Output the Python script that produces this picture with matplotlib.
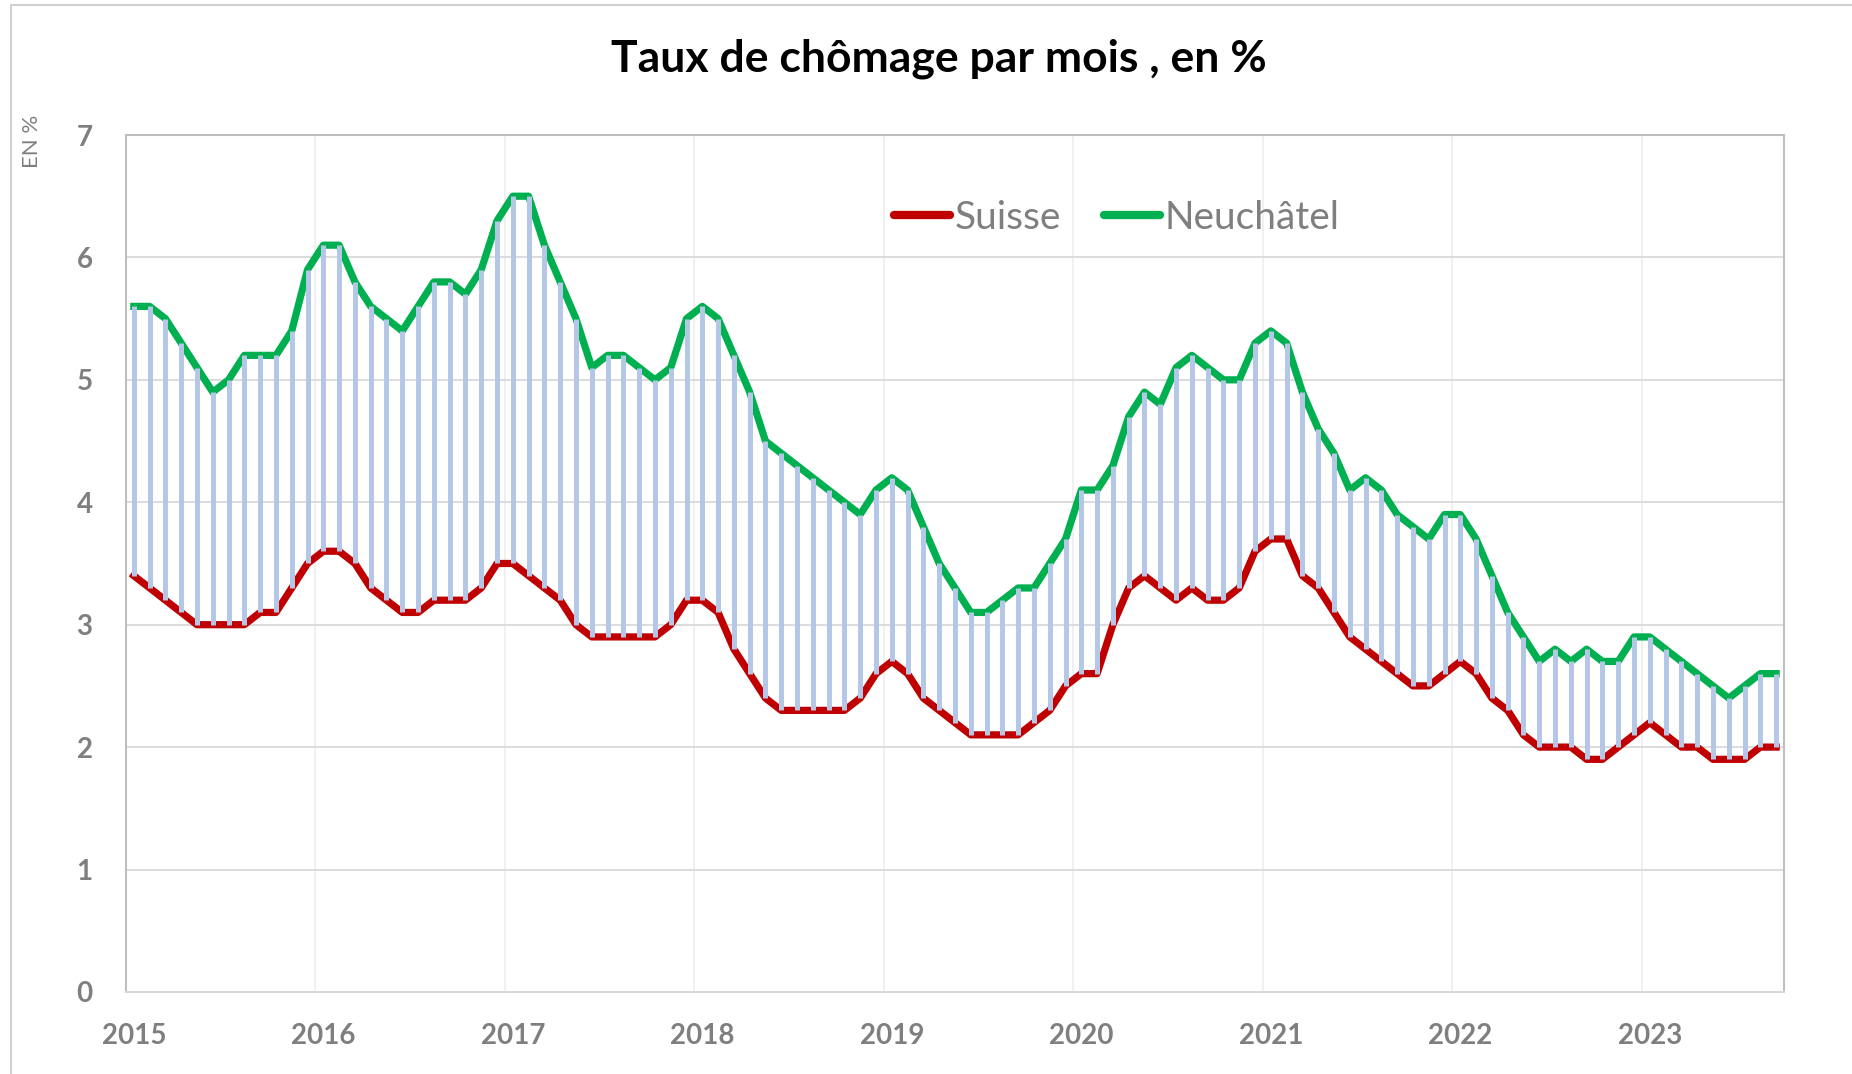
import matplotlib
matplotlib.use("Agg")
import matplotlib.pyplot as plt
from matplotlib.patches import Rectangle
import numpy as np

years = ["2015", "2016", "2017", "2018", "2019", "2020", "2021", "2022", "2023"]

suisse = [
    3.4, 3.3, 3.2, 3.1, 3.0, 3.0, 3.0, 3.0, 3.1, 3.1, 3.3, 3.5,
    3.6, 3.6, 3.5, 3.3, 3.2, 3.1, 3.1, 3.2, 3.2, 3.2, 3.3, 3.5,
    3.5, 3.4, 3.3, 3.2, 3.0, 2.9, 2.9, 2.9, 2.9, 2.9, 3.0, 3.2,
    3.2, 3.1, 2.8, 2.6, 2.4, 2.3, 2.3, 2.3, 2.3, 2.3, 2.4, 2.6,
    2.7, 2.6, 2.4, 2.3, 2.2, 2.1, 2.1, 2.1, 2.1, 2.2, 2.3, 2.5,
    2.6, 2.6, 3.0, 3.3, 3.4, 3.3, 3.2, 3.3, 3.2, 3.2, 3.3, 3.6,
    3.7, 3.7, 3.4, 3.3, 3.1, 2.9, 2.8, 2.7, 2.6, 2.5, 2.5, 2.6,
    2.7, 2.6, 2.4, 2.3, 2.1, 2.0, 2.0, 2.0, 1.9, 1.9, 2.0, 2.1,
    2.2, 2.1, 2.0, 2.0, 1.9, 1.9, 1.9, 2.0, 2.0,
]

neuchatel = [
    5.6, 5.6, 5.5, 5.3, 5.1, 4.9, 5.0, 5.2, 5.2, 5.2, 5.4, 5.9,
    6.1, 6.1, 5.8, 5.6, 5.5, 5.4, 5.6, 5.8, 5.8, 5.7, 5.9, 6.3,
    6.5, 6.5, 6.1, 5.8, 5.5, 5.1, 5.2, 5.2, 5.1, 5.0, 5.1, 5.5,
    5.6, 5.5, 5.2, 4.9, 4.5, 4.4, 4.3, 4.2, 4.1, 4.0, 3.9, 4.1,
    4.2, 4.1, 3.8, 3.5, 3.3, 3.1, 3.1, 3.2, 3.3, 3.3, 3.5, 3.7,
    4.1, 4.1, 4.3, 4.7, 4.9, 4.8, 5.1, 5.2, 5.1, 5.0, 5.0, 5.3,
    5.4, 5.3, 4.9, 4.6, 4.4, 4.1, 4.2, 4.1, 3.9, 3.8, 3.7, 3.9,
    3.9, 3.7, 3.4, 3.1, 2.9, 2.7, 2.8, 2.7, 2.8, 2.7, 2.7, 2.9,
    2.9, 2.8, 2.7, 2.6, 2.5, 2.4, 2.5, 2.6, 2.6,
]

FONT = "Lato"
GREY = "#7F7F7F"
RED = "#C00000"
GREEN = "#00B050"
BLUE = "#B4C7E7"

fig = plt.figure(figsize=(18.52, 10.74), dpi=100)
ax = fig.add_axes([0.0680, 0.0764, 0.8953, 0.7979])

x = np.arange(len(suisse))
ax.plot(x, suisse, color=RED, lw=5.2, solid_joinstyle="round", zorder=3, label="Suisse")
ax.plot(x, neuchatel, color=GREEN, lw=5.2, solid_joinstyle="round", zorder=3, label="Neuchâtel")
ax.vlines(x, suisse, neuchatel, color=BLUE, lw=3.6, zorder=4)

ax.set_xlim(-0.5, len(x) - 0.5)
ax.set_ylim(0, 7)
ax.set_yticks(range(0, 8))
ax.set_xticks(np.arange(0, len(x), 12))
ax.set_xticklabels(years)
ax.set_xticks(np.arange(11.5, len(x) - 1, 12), minor=True)

ax.grid(axis="y", which="major", color="#D9D9D9", lw=1.3, zorder=0)
ax.grid(axis="x", which="minor", color="#EFEFEF", lw=1.3, zorder=0)
ax.grid(axis="x", which="major", visible=False)
ax.tick_params(which="both", length=0)
ax.tick_params(axis="x", pad=22, labelsize=20, labelcolor=GREY)
ax.tick_params(axis="y", pad=24, labelsize=20, labelcolor=GREY)
for lab in ax.get_xticklabels() + ax.get_yticklabels():
    lab.set_fontfamily(FONT)
    lab.set_fontweight("bold")
for s in ax.spines.values():
    s.set_color("#BFBFBF")
    s.set_linewidth(1.5)
ax.spines["bottom"].set_color("#D9D9D9")

fig.text(0.507, 0.945, "Taux de chômage par mois , en %", ha="center", va="center",
         fontsize=32, fontweight="bold", fontfamily=FONT, color="black")
fig.text(0.0173, 0.868, "EN %", rotation=90, ha="center", va="center",
         fontsize=16, fontfamily=FONT, color=GREY)

leg = fig.legend(loc="center", bbox_to_anchor=(0.603, 0.797), ncol=2, frameon=False,
                 prop={"family": FONT, "size": 28}, handlelength=1.45, handletextpad=0.12,
                 columnspacing=1.1)
for t in leg.get_texts():
    t.set_color(GREY)
for h in leg.legend_handles:
    h.set_linewidth(6)
    h.set_solid_capstyle("round")

fig.patches.append(Rectangle((11 / 1852, -0.01), 1.1, 1 - 5 / 1074 + 0.01,
                             transform=fig.transFigure, fill=False,
                             edgecolor="#D0D0D0", lw=1.5, zorder=0))

fig.savefig("out.png", dpi=100)
